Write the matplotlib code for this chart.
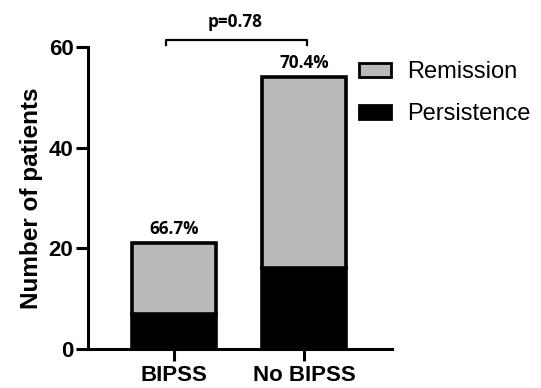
import matplotlib.pyplot as plt
from matplotlib.patches import Patch

groups = ['BIPSS', 'No BIPSS']
persistence = [7, 16]
remission = [14, 38]
pct_labels = ['66.7%', '70.4%']
p_label = 'p=0.78'

gray = '#bababa'

fig = plt.figure(figsize=(5.41, 3.88), dpi=100)
ax = fig.add_axes([0.1627, 0.1005, 0.562, 0.7785])

x = list(range(len(groups)))
ax.bar(x, persistence, width=0.65, color='black', edgecolor='black', linewidth=2.6, zorder=2)
ax.bar(x, remission, bottom=persistence, width=0.65, color=gray, edgecolor='black',
       linewidth=2.6, zorder=2)

totals = [a + b for a, b in zip(persistence, remission)]
for xi, tot, lab in zip(x, totals, pct_labels):
    ax.text(xi, tot + 2.9, lab, ha='center', va='center', fontsize=12.3,
            fontweight='bold', family='Open Sans')

# significance bracket
ax.plot([-0.06, -0.06, 1.02, 1.02], [60.4, 61.4, 61.4, 60.4], color='black',
        linewidth=1.6, clip_on=False)
ax.text(0.47, 65.0, p_label, ha='center', va='center', fontsize=12.3,
        fontweight='bold', family='Open Sans')

ax.set_xlim(-0.66, 1.677)
ax.set_ylim(0, 60)
ax.set_yticks([0, 20, 40, 60])
ax.set_xticks(x)
ax.set_xticklabels(groups)
for s in ['top', 'right']:
    ax.spines[s].set_visible(False)
for s in ['left', 'bottom']:
    ax.spines[s].set_linewidth(2.2)
ax.tick_params(axis='both', width=2.2, length=8.5, labelsize=16)
ax.tick_params(axis='y', pad=2)
ax.tick_params(axis='x', pad=3)
for lab in ax.get_xticklabels() + ax.get_yticklabels():
    lab.set_fontweight('bold')
    lab.set_family('Liberation Sans')
ax.set_ylabel('Number of patients', fontsize=17.5, fontweight='bold',
              family='Liberation Sans', labelpad=4)

handles = [Patch(facecolor=gray, edgecolor='black', linewidth=2.0, label='Remission'),
           Patch(facecolor='black', edgecolor='black', linewidth=2.0, label='Persistence')]
leg = fig.legend(handles=handles, loc='upper left', bbox_to_anchor=(0.624, 0.897),
                 frameon=False, prop={'family': 'Liberation Sans', 'size': 17},
                 handlelength=1.35, handleheight=0.5, handletextpad=0.7, labelspacing=0.85)

fig.savefig('out.png', dpi=100)
